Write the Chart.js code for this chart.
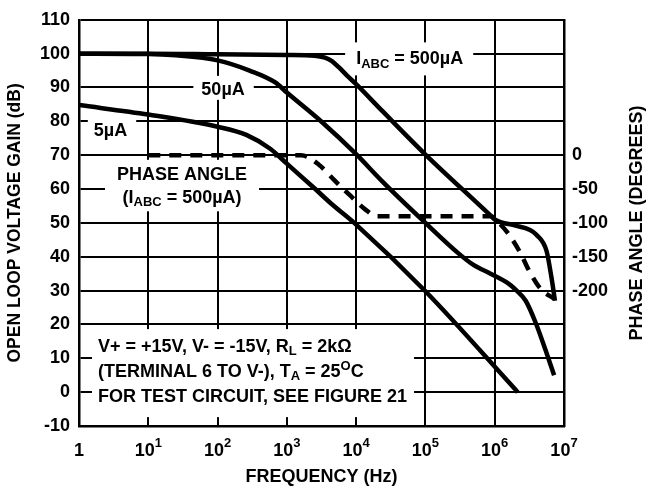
<!DOCTYPE html>
<html>
<head>
<meta charset="utf-8">
<title>Open loop voltage gain vs frequency</title>
<script src="https://cdn.jsdelivr.net/npm/chart.js@4.4.1/dist/chart.umd.min.js"></script>
<style>
  html, body { margin: 0; padding: 0; background: #fff; }
  canvas { display: block; }
</style>
</head>
<body>
<canvas id="gainChart" width="647" height="487"></canvas>
<script>
// values: frequency in Hz, gain in dB, phase in degrees
const freq500 = [1, 10, 100, 1000, 2500, 3550, 4470, 5600, 7400, 10000, 24000, 100000, 890000, 1000000, 2000000, 3160000, 4000000, 5600000, 6600000, 7400000];
const gain500 = [100, 100, 99.8, 99.6, 99.4, 98.8, 97.8, 96, 93.5, 91, 83, 70.2, 52, 51, 49.2, 48, 46.5, 41.7, 33.8, 27];

const freq50 = [1, 10, 25, 100, 290, 680, 1000, 3200, 10000, 24000, 100000, 300000, 500000, 870000, 1600000, 2000000, 2800000, 3900000, 5400000, 7200000];
const gain50 = [100, 99.9, 99.5, 98, 95, 91.5, 88.5, 79.8, 70.3, 62.2, 50, 41, 37.5, 35, 32, 30.3, 27, 20.5, 12.5, 5];

const freq5 = [1, 10, 100, 260, 575, 1000, 2570, 4470, 10000, 100000, 2150000];
const gain5 = [84.8, 82, 78.4, 76, 71.9, 67.5, 60, 55.5, 49.5, 29.8, 0];

const freqPhase = [10, 1600, 2900, 4800, 7900, 13500, 20000, 900000, 1000000, 1550000, 2350000, 3150000, 4600000, 7200000];
const phaseDeg = [0, 0, -14, -36.5, -58, -80, -90, -90, -94, -115, -144.5, -171, -197.5, -212];

const freqTicks = [1, 10, 100, 1000, 10000, 100000, 1000000, 10000000];
const phaseTicks = [0, -50, -100, -150, -200];

const FONT = '"Liberation Sans", Arial, Helvetica, sans-serif';
const INK = '#000';

function toPoints(xs, ys) {
  return xs.map((x, i) => ({ x: x, y: ys[i] }));
}

// a line of text made of parts [text, kind], kind '' | 'sub' | 'sup'
// y is the middle of the capitals
function richWidth(ctx, parts, size, small) {
  let w = 0;
  parts.forEach(p => {
    ctx.font = 'bold ' + (p[1] ? small : size) + 'px ' + FONT;
    w += ctx.measureText(p[0]).width;
  });
  return w;
}

function drawRich(ctx, parts, x, y, size, small, supShift) {
  let cx = x;
  ctx.textAlign = 'left';
  ctx.textBaseline = 'alphabetic';
  parts.forEach(p => {
    const s = p[1] ? small : size;
    let mid = y;
    if (p[1] === 'sub') mid = y + 5.5;
    if (p[1] === 'sup') mid = y + supShift;
    ctx.font = 'bold ' + s + 'px ' + FONT;
    ctx.fillText(p[0], cx, mid + s * 0.716 / 2);
    cx += ctx.measureText(p[0]).width;
  });
}

// label blocks on the plot, with the white box they knock out of the grid
const notes = [
  { f: 10000, db: 98.9, align: 'left', gap: 0, pad: [11, 10, 15, 18],
    lines: [[['I', ''], ['ABC', 'sub'], [' = 500\u00b5A', '']]] },
  { f: 120, db: 89.6, align: 'center', gap: 0, pad: [8, 9, 13, 11],
    lines: [[['50\u00b5A', '']]] },
  { f: 2.85, db: 77.7, align: 'center', gap: 0, pad: [6, 9, 12, 10],
    lines: [[['5\u00b5A', '']]] },
  { f: 30.7, db: 64.5, align: 'center', gap: 22.5, pad: [12, 12, 14, 15],
    lines: [[['PHASE ANGLE', '']],
            [['(I', ''], ['ABC', 'sub'], [' = 500\u00b5A)', '']]] },
  { f: 1.88, db: 13.9, align: 'left', gap: 25, pad: [6, 7, 16, 22],
    lines: [[['V+ = +15V, V- = -15V, R', ''], ['L', 'sub'], [' = 2k\u03a9', '']],
            [['(TERMINAL 6 TO V-), T', ''], ['A', 'sub'], [' = 25', ''], ['O', 'sup'], ['C', '']],
            [['FOR TEST CIRCUIT, SEE FIGURE 21', '']]] }
];

const notesPlugin = {
  id: 'notes',
  beforeDatasetsDraw(chart) {
    const ctx = chart.ctx;
    const xs = chart.scales.x, ys = chart.scales.y;
    ctx.save();
    notes.forEach(n => {
      const px = xs.getPixelForValue(n.f);
      const py = ys.getPixelForValue(n.db);
      const widths = n.lines.map(l => richWidth(ctx, l, 18, 13));
      const w = Math.max.apply(null, widths);
      const left = n.align === 'center' ? px - w / 2 : px;
      const top = py - n.pad[2];
      const bottom = py + (n.lines.length - 1) * n.gap + n.pad[3];
      ctx.fillStyle = '#fff';
      ctx.fillRect(left - n.pad[0], top, w + n.pad[0] + n.pad[1], bottom - top);
      ctx.fillStyle = INK;
      n.lines.forEach((l, i) => {
        const lx = n.align === 'center' ? px - widths[i] / 2 : px;
        drawRich(ctx, l, lx, py + i * n.gap, 18, 13, -5);
      });
    });
    ctx.restore();
  },
  afterDraw(chart) {
    const ctx = chart.ctx;
    const xs = chart.scales.x;
    const area = chart.chartArea;
    ctx.save();
    ctx.fillStyle = INK;
    // decade labels with superscript exponents
    freqTicks.forEach(v => {
      const px = xs.getPixelForValue(v);
      const exp = Math.round(Math.log10(v));
      const parts = exp === 0 ? [['1', '']] : [['10', ''], [String(exp), 'sup']];
      const w = richWidth(ctx, parts, 18, 13);
      drawRich(ctx, parts, px - w / 2, area.bottom + 23.5, 18, 13, -7.5);
    });
    // axis titles
    ctx.font = 'bold 18px ' + FONT;
    ctx.textAlign = 'center';
    ctx.textBaseline = 'middle';
    ctx.fillText('FREQUENCY (Hz)', (area.left + area.right) / 2, area.bottom + 51);
    const midY = (area.top + area.bottom) / 2;
    ctx.save();
    ctx.translate(15, midY);
    ctx.rotate(-Math.PI / 2);
    ctx.font = 'bold 17.5px ' + FONT;
    ctx.fillText('OPEN LOOP VOLTAGE GAIN (dB)', 0, 0);
    ctx.restore();
    ctx.save();
    ctx.translate(637, midY);
    ctx.rotate(-Math.PI / 2);
    ctx.fillText('PHASE ANGLE (DEGREES)', 0, 0);
    ctx.restore();
    ctx.restore();
  }
};

const tickFont = { family: FONT, size: 18, weight: 'bold' };
const gridStyle = { color: INK, lineWidth: 2, drawTicks: false };
const borderStyle = { color: INK, width: 2.5 };

new Chart(document.getElementById('gainChart'), {
  type: 'line',
  data: {
    datasets: [
      { label: 'IABC = 500\u00b5A', data: toPoints(freq500, gain500), yAxisID: 'y' },
      { label: '50\u00b5A', data: toPoints(freq50, gain50), yAxisID: 'y' },
      { label: '5\u00b5A', data: toPoints(freq5, gain5), yAxisID: 'y' },
      { label: 'Phase angle (IABC = 500\u00b5A)', data: toPoints(freqPhase, phaseDeg), yAxisID: 'y2',
        borderDash: [12, 9], borderCapStyle: 'butt' }
    ]
  },
  options: {
    responsive: false,
    animation: false,
    devicePixelRatio: 1,
    layout: { padding: { top: 17, left: 0, right: 0, bottom: 0 } },
    plugins: { legend: { display: false }, tooltip: { enabled: false } },
    elements: {
      point: { radius: 0 },
      line: { borderColor: INK, borderWidth: 4.5, cubicInterpolationMode: 'monotone', fill: false }
    },
    scales: {
      x: {
        type: 'logarithmic',
        min: 1,
        max: 10000000,
        afterBuildTicks: s => { s.ticks = freqTicks.map(v => ({ value: v })); },
        afterFit: s => { s.height = 61; },
        ticks: { display: false },
        grid: gridStyle,
        border: borderStyle
      },
      y: {
        min: -10,
        max: 110,
        ticks: { stepSize: 10, padding: 9, color: INK, font: tickFont },
        afterFit: s => { s.width = 79; },
        grid: gridStyle,
        border: borderStyle
      },
      y2: {
        position: 'right',
        min: -400,
        max: 200,
        afterBuildTicks: s => { s.ticks = phaseTicks.map(v => ({ value: v })); },
        ticks: { padding: 8, color: INK, font: tickFont },
        afterFit: s => { s.width = 83; },
        grid: { display: false, drawTicks: false },
        border: borderStyle
      }
    }
  },
  plugins: [notesPlugin]
});
</script>
</body>
</html>
